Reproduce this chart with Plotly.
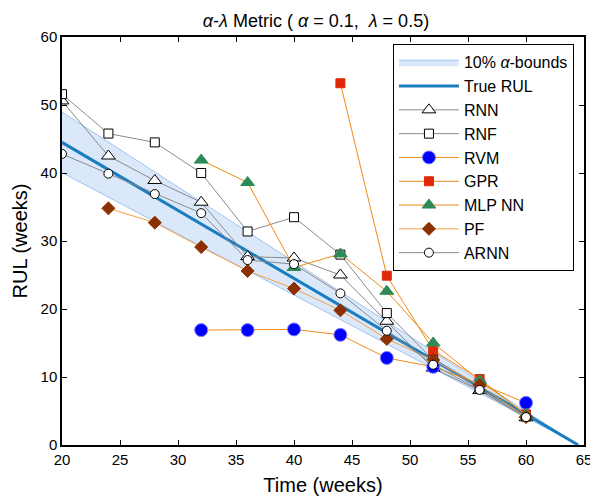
import plotly.graph_objects as go

# prediction times (weeks)
t_all = [20, 24, 28, 32, 36, 40, 44, 48, 52, 56, 60]
t_32 = [32, 36, 40, 44, 48, 52, 56, 60]
t_gpr = [44, 48, 52, 56, 60]
t_pf = [24, 28, 32, 36, 40, 44, 48, 52, 56, 60]

# true RUL line and 10% alpha bounds (end points)
t_true = [20, 64.5]
rul_true = [44.5, 0]
bound_hi = [48.95, 0]
bound_lo = [40.05, 0]

rnn = [50.6, 42.5, 38.9, 35.7, 27.7, 27.5, 25.0, 18.2, 11.3, 8.0, 4.0]
rnf = [51.6, 45.8, 44.5, 40.0, 31.4, 33.5, 28.0, 19.4, 12.5, 8.3, 4.2]
rvm = [16.9, 16.9, 17.0, 16.2, 12.8, 11.5, 9.0, 6.2]
gpr = [53.2, 24.9, 13.9, 9.7, 4.5]
mlp = [41.9, 38.6, 26.1, 28.1, 22.6, 15.0, 9.5, 4.5]
pf = [34.8, 32.7, 29.1, 25.6, 23.0, 19.8, 15.6, 12.5, 8.8, 4.1]
arnn = [42.8, 39.9, 36.9, 34.1, 27.2, 26.6, 22.3, 16.8, 11.8, 8.1, 4.1]

GRAY = '#8a8a8a'
ORANGE = '#ef8a17'

fig = go.Figure()

# alpha bounds as a filled band
fig.add_trace(go.Scatter(x=t_true, y=bound_lo, mode='lines',
                         line=dict(color='rgba(160,195,240,1)', width=1),
                         showlegend=False, hoverinfo='skip'))
fig.add_trace(go.Scatter(x=t_true, y=bound_hi, mode='lines', fill='tonexty',
                         fillcolor='rgba(215,230,250,0.9)',
                         line=dict(color='rgba(160,195,240,1)', width=1),
                         name='10% <i>α</i>-bounds'))
fig.add_trace(go.Scatter(x=t_true, y=rul_true, mode='lines',
                         line=dict(color='#1a7dc0', width=3), name='True RUL'))

fig.add_trace(go.Scatter(x=t_all, y=rnn, mode='lines+markers', name='RNN',
                         line=dict(color=GRAY, width=1),
                         marker=dict(symbol='triangle-up', size=12, color='white',
                                     line=dict(color='black', width=1))))
fig.add_trace(go.Scatter(x=t_all, y=rnf, mode='lines+markers', name='RNF',
                         line=dict(color=GRAY, width=1),
                         marker=dict(symbol='square', size=9, color='white',
                                     line=dict(color='black', width=1))))
fig.add_trace(go.Scatter(x=t_32, y=rvm, mode='lines+markers', name='RVM',
                         line=dict(color=ORANGE, width=1),
                         marker=dict(symbol='circle', size=13, color='#0000ff',
                                     line=dict(color='#7f7fff', width=1))))
fig.add_trace(go.Scatter(x=t_gpr, y=gpr, mode='lines+markers', name='GPR',
                         line=dict(color=ORANGE, width=1),
                         marker=dict(symbol='square', size=9, color='#e0280a',
                                     line=dict(color='#e0280a', width=1))))
fig.add_trace(go.Scatter(x=t_32, y=mlp, mode='lines+markers', name='MLP NN',
                         line=dict(color=ORANGE, width=1),
                         marker=dict(symbol='triangle-up', size=12, color='#2e8b57',
                                     line=dict(color='#2e8b57', width=1))))
fig.add_trace(go.Scatter(x=t_pf, y=pf, mode='lines+markers', name='PF',
                         line=dict(color='#f0a04a', width=1),
                         marker=dict(symbol='diamond', size=10, color='#8b3000',
                                     line=dict(color='#8b3000', width=1))))
fig.add_trace(go.Scatter(x=t_all, y=arnn, mode='lines+markers', name='ARNN',
                         line=dict(color=GRAY, width=1),
                         marker=dict(symbol='circle', size=9, color='white',
                                     line=dict(color='black', width=1))))

axis_style = dict(showline=True, linecolor='black', linewidth=1.5, mirror='allticks',
                  ticks='inside', ticklen=5, tickcolor='black', showgrid=False,
                  zeroline=False, automargin=False,
                  tickfont=dict(size=15, color='black'))

# page body adds an 8px offset, so the figure is 8px smaller than the window
fig.update_layout(
    width=590, height=494,
    margin=dict(l=54, r=14, t=29, b=57),
    paper_bgcolor='white', plot_bgcolor='white',
    font=dict(family='Liberation Sans, Arial, sans-serif', color='black'),
    title=dict(text='<i>α</i>-<i>λ</i> Metric ( <i>α</i> = 0.1,  <i>λ</i> = 0.5)',
               x=0.522, xanchor='center', y=0.975, yanchor='middle',
               automargin=False, font=dict(size=18, color='black')),
    xaxis=dict(range=[20, 65], tick0=20, dtick=5,
               title=dict(text='Time (weeks)', font=dict(size=20), standoff=11),
               **axis_style),
    yaxis=dict(range=[0, 60], tick0=0, dtick=10,
               title=dict(text='RUL (weeks)', font=dict(size=20), standoff=8),
               **axis_style),
    legend=dict(x=0.634, y=0.982, xanchor='left', yanchor='top',
                bgcolor='white', bordercolor='black', borderwidth=1,
                font=dict(size=16, color='black'), itemwidth=60,
                traceorder='normal', tracegroupgap=0),
    showlegend=True,
)

fig.write_html("out.html")
